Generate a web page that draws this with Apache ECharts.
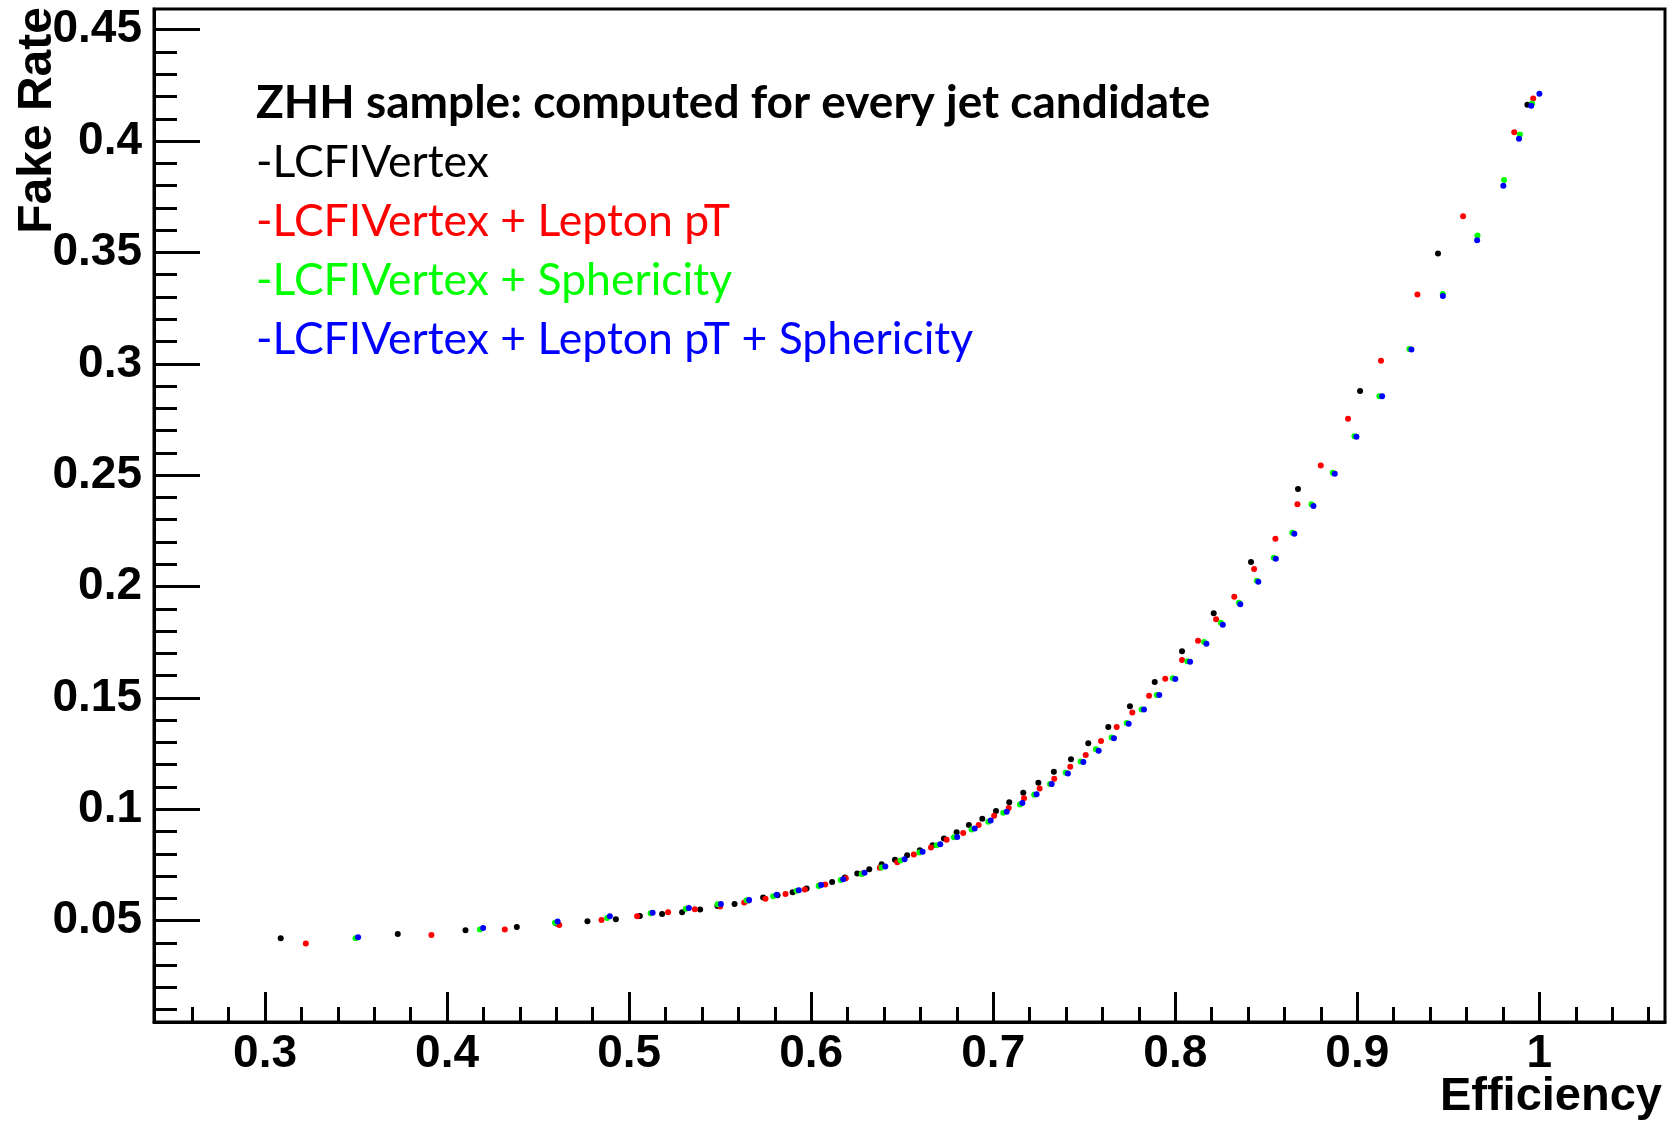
<!DOCTYPE html>
<html>
<head>
<meta charset="utf-8">
<script src="https://cdn.jsdelivr.net/npm/echarts@6/dist/echarts.min.js"></script>
<style>
html,body{margin:0;padding:0;background:#fff;}
#chart{width:1670px;height:1121px;}
</style>
</head>
<body>
<div id="chart"></div>
<script>
// ---------- data (efficiency, fake rate) ----------
const lcfiVertex = [
[0.3086,0.0421],[0.3729,0.0440],[0.4101,0.0457],[0.4383,0.0472],[0.4600,0.0487],[0.4771,0.0497],
[0.4927,0.0506],[0.5059,0.0521],[0.5181,0.0530],[0.5291,0.0538],[0.5390,0.0550],[0.5485,0.0566],
[0.5579,0.0575],[0.5655,0.0590],[0.5736,0.0604],[0.5815,0.0614],[0.5898,0.0628],[0.5975,0.0644],
[0.6045,0.0658],[0.6115,0.0674],[0.6185,0.0694],[0.6253,0.0712],[0.6319,0.0731],[0.6387,0.0753],
[0.6460,0.0773],[0.6527,0.0794],[0.6597,0.0816],[0.6667,0.0839],[0.6729,0.0869],[0.6799,0.0897],
[0.6866,0.0929],[0.6940,0.0957],[0.7015,0.0992],[0.7088,0.1032],[0.7165,0.1074],[0.7248,0.1119],
[0.7333,0.1168],[0.7427,0.1225],[0.7522,0.1296],[0.7632,0.1369],[0.7751,0.1463],[0.7887,0.1572],
[0.8037,0.1709],[0.8211,0.1880],[0.8416,0.2110],[0.8674,0.2438],[0.9015,0.2878],[0.9443,0.3495],
[0.9934,0.4163]
];
const lcfiLeptonPt = [
[0.3224,0.0397],[0.3914,0.0436],[0.4317,0.0460],[0.4616,0.0481],[0.4848,0.0503],[0.5044,0.0520],
[0.5214,0.0538],[0.5361,0.0551],[0.5500,0.0563],[0.5632,0.0581],[0.5749,0.0598],[0.5859,0.0620],
[0.5965,0.0640],[0.6077,0.0662],[0.6190,0.0690],[0.6280,0.0712],[0.6377,0.0737],[0.6473,0.0762],
[0.6564,0.0797],[0.6658,0.0828],[0.6744,0.0863],[0.6835,0.0894],[0.6920,0.0930],[0.7005,0.0971],
[0.7085,0.1006],[0.7169,0.1050],[0.7255,0.1093],[0.7335,0.1137],[0.7423,0.1191],[0.7508,0.1244],
[0.7592,0.1307],[0.7678,0.1369],[0.7764,0.1435],[0.7856,0.1510],[0.7945,0.1586],[0.8037,0.1670],
[0.8125,0.1757],[0.8224,0.1853],[0.8324,0.1954],[0.8433,0.2079],[0.8550,0.2215],[0.8671,0.2369],
[0.8799,0.2543],[0.8949,0.2753],[0.9130,0.3014],[0.9330,0.3311],[0.9581,0.3663],[0.9862,0.4040],
[0.9966,0.4191]
];
const lcfiSphericity = [
[0.3497,0.0421],[0.4180,0.0460],[0.4592,0.0491],[0.4879,0.0512],[0.5118,0.0533],[0.5312,0.0553],
[0.5486,0.0574],[0.5645,0.0592],[0.5791,0.0610],[0.5920,0.0634],[0.6041,0.0656],[0.6162,0.0683],
[0.6277,0.0709],[0.6387,0.0739],[0.6491,0.0770],[0.6594,0.0806],[0.6689,0.0839],[0.6784,0.0875],
[0.6881,0.0909],[0.6973,0.0944],[0.7055,0.0984],[0.7147,0.1022],[0.7225,0.1065],[0.7312,0.1113],
[0.7398,0.1164],[0.7480,0.1215],[0.7564,0.1269],[0.7650,0.1322],[0.7733,0.1387],[0.7815,0.1448],
[0.7898,0.1513],[0.7986,0.1588],[0.8066,0.1665],[0.8158,0.1751],[0.8250,0.1837],[0.8350,0.1927],
[0.8448,0.2026],[0.8541,0.2129],[0.8643,0.2242],[0.8748,0.2369],[0.8865,0.2511],[0.8984,0.2675],
[0.9121,0.2854],[0.9286,0.3067],[0.9469,0.3314],[0.9660,0.3576],[0.9806,0.3825],[0.9893,0.4030],
[0.9960,0.4169]
];
const lcfiLeptonPtSphericity = [
[0.3511,0.0425],[0.4198,0.0467],[0.4607,0.0496],[0.4894,0.0520],[0.5129,0.0535],[0.5328,0.0557],
[0.5504,0.0575],[0.5659,0.0593],[0.5810,0.0616],[0.5932,0.0637],[0.6055,0.0660],[0.6176,0.0686],
[0.6293,0.0715],[0.6407,0.0743],[0.6513,0.0776],[0.6612,0.0809],[0.6709,0.0843],[0.6802,0.0876],
[0.6898,0.0914],[0.6986,0.0950],[0.7074,0.0989],[0.7160,0.1028],[0.7238,0.1068],[0.7321,0.1113],
[0.7410,0.1161],[0.7495,0.1212],[0.7579,0.1263],[0.7663,0.1319],[0.7744,0.1384],[0.7828,0.1448],
[0.7912,0.1513],[0.8000,0.1585],[0.8081,0.1662],[0.8171,0.1743],[0.8261,0.1828],[0.8357,0.1921],
[0.8456,0.2022],[0.8552,0.2125],[0.8654,0.2237],[0.8759,0.2362],[0.8876,0.2507],[0.8995,0.2672],
[0.9136,0.2854],[0.9297,0.3064],[0.9470,0.3305],[0.9658,0.3555],[0.9802,0.3799],[0.9888,0.4010],
[0.9955,0.4159],[1.0000,0.4212]
];

// ---------- axes ----------
const xMajorTicks = [0.3,0.4,0.5,0.6,0.7,0.8,0.9,1.0];
const xMinorTicks = [0.26,0.28,0.3,0.32,0.34,0.36,0.38,0.4,0.42,0.44,0.46,0.48,0.5,0.52,0.54,0.56,0.58,0.6,
  0.62,0.64,0.66,0.68,0.7,0.72,0.74,0.76,0.78,0.8,0.82,0.84,0.86,0.88,0.9,0.92,0.94,0.96,0.98,1.0,1.02,1.04,1.06];
const yMajorTicks = [0.05,0.1,0.15,0.2,0.25,0.3,0.35,0.4,0.45];
const yMinorTicks = [0.01,0.02,0.03,0.04,0.05,0.06,0.07,0.08,0.09,0.1,0.11,0.12,0.13,0.14,0.15,0.16,0.17,0.18,0.19,0.2,
  0.21,0.22,0.23,0.24,0.25,0.26,0.27,0.28,0.29,0.3,0.31,0.32,0.33,0.34,0.35,0.36,0.37,0.38,0.39,0.4,0.41,0.42,0.43,0.44,0.45];
const xRange = [0.239, 1.069];
const yRange = [0.0045, 0.4593];

// ---------- texts ----------
const xTitle = "Efficiency";
const yTitle = "Fake Rate";
const noteTitle = "ZHH sample: computed for every jet candidate";
const seriesNames = ["-LCFIVertex", "-LCFIVertex + Lepton pT", "-LCFIVertex + Sphericity", "-LCFIVertex + Lepton pT + Sphericity"];
const seriesColors = ["#000000", "#ff0000", "#00ff00", "#0000ff"];
const seriesData = [lcfiVertex, lcfiLeptonPt, lcfiSphericity, lcfiLeptonPtSphericity];

const lab = { fontFamily: '"Liberation Sans", Arial, sans-serif', fontWeight: 'bold', fontSize: 46, color: '#000' };

const chart = echarts.init(document.getElementById('chart'), null, { renderer: 'canvas' });

const xAxisBase = { type: 'value', min: xRange[0], max: xRange[1], position: 'bottom', splitLine: { show: false },
  axisLine: { show: true, onZero: false, lineStyle: { color: '#000', width: 3 } } };
const yAxisBase = { type: 'value', min: yRange[0], max: yRange[1], position: 'left', splitLine: { show: false },
  axisLine: { show: true, onZero: false, lineStyle: { color: '#000', width: 3 } } };

const option = {
  animation: false,
  backgroundColor: '#fff',
  grid: { left: 154, top: 9, right: 5, bottom: 99, show: true, borderColor: '#000', borderWidth: 3, backgroundColor: 'transparent' },
  xAxis: [
    Object.assign({}, xAxisBase, {
      axisTick: { show: true, inside: true, length: 30, customValues: xMajorTicks, lineStyle: { color: '#000', width: 3 } },
      axisLabel: Object.assign({ show: true, margin: 9, customValues: xMajorTicks, formatter: v => String(+v.toFixed(2)) }, lab)
    }),
    Object.assign({}, xAxisBase, {
      axisLine: { show: false, onZero: false },
      axisTick: { show: true, inside: true, length: 15, customValues: xMinorTicks, lineStyle: { color: '#000', width: 3 } },
      axisLabel: { show: false }
    })
  ],
  yAxis: [
    Object.assign({}, yAxisBase, {
      axisTick: { show: true, inside: true, length: 46, customValues: yMajorTicks, lineStyle: { color: '#000', width: 3 } },
      axisLabel: Object.assign({ show: true, margin: 12, customValues: yMajorTicks, formatter: v => String(+v.toFixed(2)) }, lab)
    }),
    Object.assign({}, yAxisBase, {
      axisLine: { show: false, onZero: false },
      axisTick: { show: true, inside: true, length: 23, customValues: yMinorTicks, lineStyle: { color: '#000', width: 3 } },
      axisLabel: { show: false }
    })
  ],
  series: seriesData.map((d, i) => ({
    type: 'scatter', name: seriesNames[i], xAxisIndex: 0, yAxisIndex: 0,
    data: d, symbol: 'circle', symbolSize: 6, itemStyle: { color: seriesColors[i], opacity: 1 }, z: 2 + i
  })),
  graphic: [
    { type: 'text', x: 38, y: 7, rotation: Math.PI / 2,
      style: { text: yTitle, font: 'bold 48px "Liberation Sans", Arial, sans-serif', fill: '#000', align: 'right', verticalAlign: 'middle' } },
    { type: 'text', x: 1662, y: 1097,
      style: { text: xTitle, font: 'bold 47px "Liberation Sans", Arial, sans-serif', fill: '#000', align: 'right', verticalAlign: 'middle' } },
    { type: 'text', x: 256, y: 103,
      style: { text: noteTitle, font: 'bold 46px Lato, sans-serif', fill: '#000', align: 'left', verticalAlign: 'middle' } },
  ].concat(seriesNames.map((n, i) => ({
      type: 'text', x: 256, y: 163 + i * 59,
      style: { text: n, font: '44.5px Lato, sans-serif', fill: seriesColors[i], align: 'left', verticalAlign: 'middle' }
  })))
};
chart.setOption(option);
</script>
</body>
</html>
